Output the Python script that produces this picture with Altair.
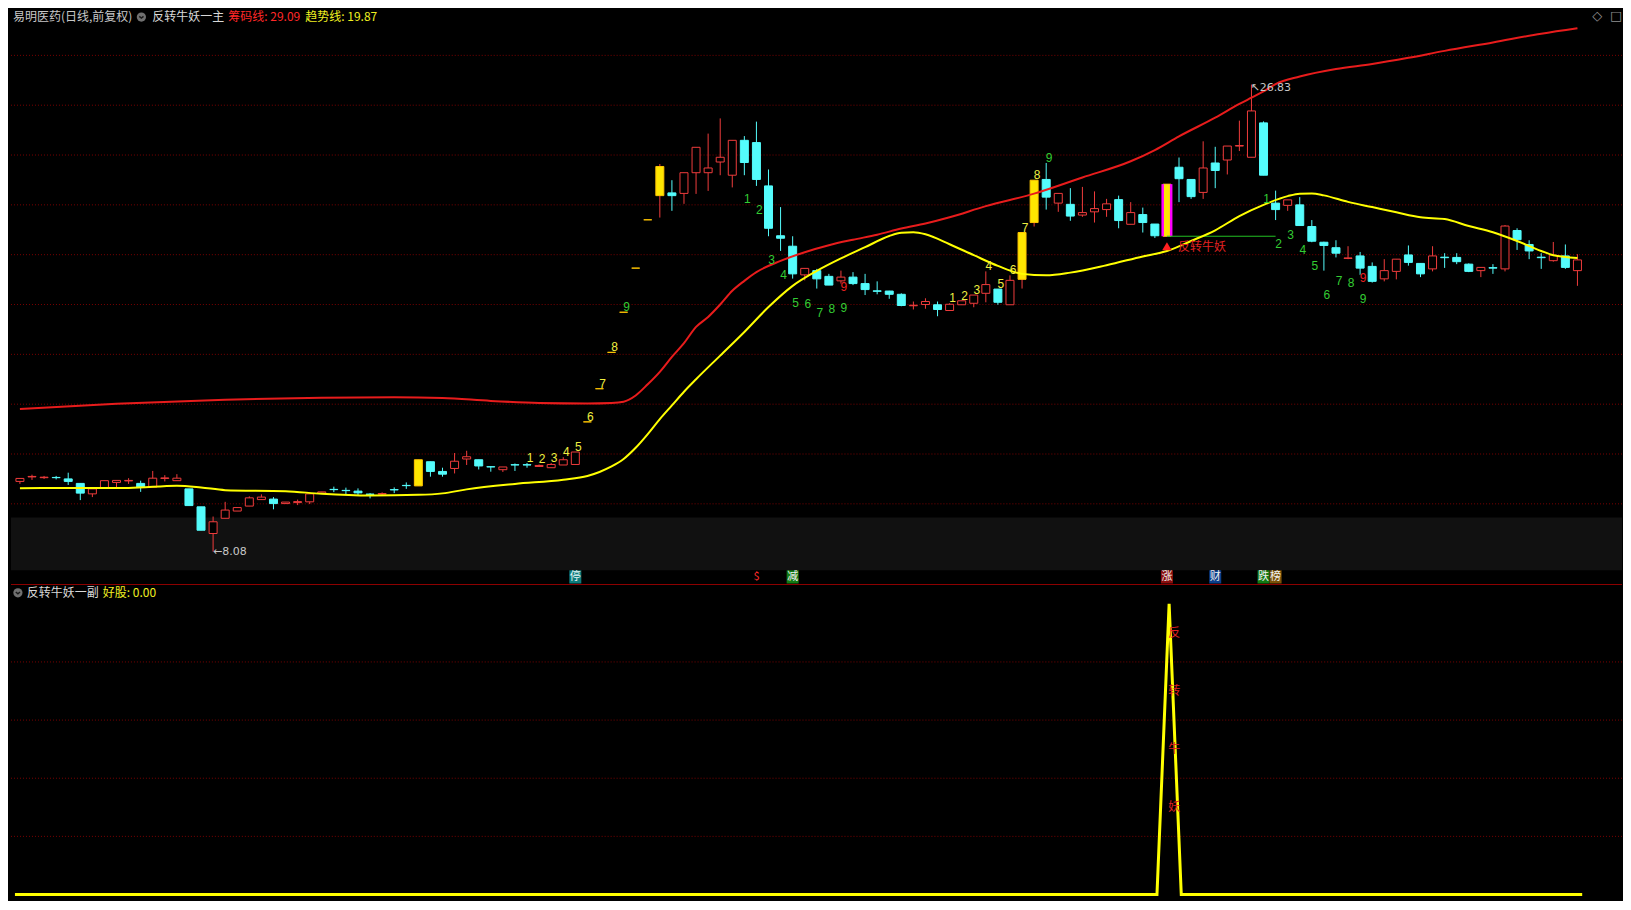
import altair as alt
import pandas as pd

# ---------------- data ----------------
opens = [
    10.90, 11.08, 11.05, 11.06, 11.00, 10.82, 10.40, 10.64, 10.86, 10.92,
    10.82, 10.67, 11.02, 10.93, 10.60, 9.88, 8.81, 9.42, 9.71, 9.91,
    10.17, 10.19, 10.01, 10.05, 10.08, 10.43, 10.58, 10.54, 10.51, 10.39,
    10.39, 10.57, 10.74, 10.72, 11.69, 11.30, 11.42, 11.80, 11.77, 11.49,
    11.37, 11.57, 11.57, 11.50, 11.45, 11.56, 11.58, 13.29, 14.62, 16.08,
    17.69, 19.46, 21.40, 22.37, 22.48, 22.46, 23.29, 23.29, 23.72, 23.19,
    24.59, 24.50, 22.76, 20.76, 20.34, 19.19, 19.36, 19.13, 18.95, 19.10,
    18.84, 18.55, 18.54, 18.41, 17.95, 18.00, 17.99, 17.76, 17.99, 18.05,
    18.45, 18.62, 17.99, 19.01, 21.29, 23.02, 22.07, 22.02, 21.59, 21.72,
    21.81, 22.21, 21.22, 21.61, 21.23, 20.74, 23.51, 23.02, 22.50, 23.68,
    23.80, 24.36, 23.91, 25.29, 22.07, 21.98, 22.00, 21.13, 20.50, 20.28,
    19.85, 19.95, 19.53, 19.03, 19.33, 19.99, 19.65, 19.43, 19.90, 19.89,
    19.62, 19.36, 19.48, 19.43, 20.97, 20.41, 19.90, 19.76, 19.95, 19.36,
]
highs = [
    11.02, 11.17, 11.12, 11.12, 11.25, 10.82, 10.60, 10.93, 10.94, 11.03,
    10.93, 11.32, 11.15, 11.19, 10.60, 9.88, 9.49, 10.08, 9.85, 10.30,
    10.38, 10.27, 10.07, 10.17, 10.40, 10.48, 10.69, 10.65, 10.62, 10.43,
    10.46, 10.66, 10.86, 11.77, 11.69, 11.45, 12.04, 12.13, 11.77, 11.50,
    11.48, 11.62, 11.64, 11.58, 11.64, 11.87, 12.08, 13.29, 14.62, 16.08,
    17.69, 19.46, 21.40, 23.64, 22.99, 23.29, 24.31, 24.86, 25.47, 24.59,
    24.76, 25.34, 23.42, 21.91, 20.74, 19.45, 19.43, 19.23, 19.36, 19.30,
    19.23, 18.93, 18.55, 18.45, 18.12, 18.25, 18.12, 18.05, 18.15, 18.38,
    19.33, 18.62, 19.17, 20.89, 22.99, 23.68, 22.46, 22.67, 22.72, 22.54,
    22.24, 22.37, 22.11, 21.89, 21.23, 22.83, 23.90, 23.02, 24.55, 24.33,
    24.36, 25.38, 26.83, 25.35, 22.57, 22.20, 22.31, 21.39, 20.52, 20.58,
    20.34, 20.11, 19.69, 19.82, 19.82, 20.37, 19.65, 20.34, 20.06, 20.06,
    19.65, 19.49, 19.62, 21.19, 21.06, 20.58, 20.06, 20.51, 20.41, 20.02,
]
lows = [
    10.80, 10.96, 11.00, 10.98, 10.76, 10.15, 10.27, 10.64, 10.64, 10.80,
    10.48, 10.67, 10.90, 10.93, 9.93, 8.94, 8.08, 9.42, 9.71, 9.91,
    10.17, 9.78, 10.01, 9.95, 9.99, 10.43, 10.47, 10.38, 10.33, 10.22,
    10.33, 10.43, 10.60, 10.72, 11.09, 11.09, 11.22, 11.56, 11.38, 11.29,
    11.28, 11.32, 11.45, 11.48, 11.45, 11.56, 11.58, 13.29, 14.62, 16.08,
    17.69, 19.46, 21.40, 21.49, 21.76, 22.04, 22.44, 22.56, 23.19, 22.70,
    23.19, 22.76, 20.74, 20.15, 19.04, 18.97, 18.64, 18.78, 18.84, 18.78,
    18.38, 18.41, 18.23, 17.93, 17.80, 17.83, 17.53, 17.76, 17.99, 17.89,
    18.09, 17.99, 17.99, 18.64, 21.13, 21.81, 21.72, 21.36, 21.52, 21.29,
    21.52, 21.06, 21.22, 20.89, 20.67, 20.74, 22.11, 22.24, 22.24, 22.67,
    23.22, 24.16, 23.91, 23.19, 21.39, 21.76, 21.17, 20.50, 19.36, 19.89,
    19.82, 19.19, 18.88, 18.93, 19.01, 19.56, 19.10, 19.33, 19.47, 19.62,
    19.30, 19.10, 19.23, 19.33, 20.19, 19.82, 19.43, 19.72, 19.43, 18.75,
]
closes = [
    11.02, 11.10, 11.07, 11.05, 10.90, 10.43, 10.60, 10.93, 10.94, 10.94,
    10.67, 11.03, 11.04, 11.03, 9.93, 8.94, 9.28, 9.75, 9.85, 10.24,
    10.27, 10.01, 10.07, 10.09, 10.40, 10.48, 10.57, 10.53, 10.44, 10.38,
    10.41, 10.56, 10.73, 11.77, 11.30, 11.19, 11.71, 11.89, 11.52, 11.48,
    11.48, 11.56, 11.56, 11.54, 11.58, 11.77, 12.08, 13.29, 14.62, 16.08,
    17.69, 19.46, 21.40, 23.54, 22.37, 23.29, 24.31, 23.48, 23.91, 24.59,
    23.70, 23.02, 21.06, 20.66, 19.23, 19.45, 19.03, 18.78, 19.10, 18.84,
    18.60, 18.53, 18.41, 17.96, 17.97, 18.12, 17.80, 18.01, 18.15, 18.38,
    18.80, 18.09, 18.97, 20.89, 22.99, 22.31, 22.46, 21.55, 21.69, 21.85,
    22.04, 21.37, 21.69, 21.29, 20.76, 22.83, 23.05, 22.33, 23.48, 23.38,
    24.36, 24.38, 25.77, 23.19, 21.81, 22.20, 21.17, 20.54, 20.37, 20.06,
    19.87, 19.46, 18.93, 19.36, 19.82, 19.69, 19.23, 19.95, 19.88, 19.72,
    19.33, 19.49, 19.46, 21.15, 20.60, 20.15, 19.88, 19.98, 19.49, 19.79,
]
limit_up_days = [33, 47, 48, 49, 50, 51, 52, 53, 83, 84, 95]
signal_days = [95]
signal_line_end = [104]

chip_idx = [0, 8, 17, 25, 31, 35, 39, 43, 47, 49,
            50, 51, 52, 53, 54, 55, 56, 57, 58, 59,
            60, 61, 63, 65, 67, 69, 71, 73, 75, 77,
            80, 84, 88, 92, 94, 96, 99, 101, 102, 103,
            104, 106, 109, 112, 115, 118, 122, 126, 129]
chip_val = [13.81, 14.02, 14.18, 14.26, 14.28, 14.25, 14.13, 14.05, 14.03, 14.05,
            14.10, 14.35, 14.80, 15.30, 15.90, 16.45, 17.10, 17.50, 18.00, 18.55,
            18.95, 19.30, 19.75, 20.10, 20.38, 20.60, 20.80, 21.05, 21.25, 21.50,
            21.95, 22.45, 23.10, 23.75, 24.20, 24.75, 25.50, 26.05, 26.30, 26.55,
            26.85, 27.15, 27.45, 27.65, 27.90, 28.18, 28.52, 28.87, 29.09]

trend_idx = [0, 5, 9, 13, 15, 17, 22, 25, 29, 33,
             35, 37, 41, 45, 47, 48, 49, 50, 51, 52,
             53, 54, 55, 56, 58, 60, 62, 64, 66, 68,
             70, 72, 73, 74, 75, 77, 79, 81, 83, 85,
             87, 90, 93, 95, 97, 99, 101, 103, 105, 106,
             107, 108, 110, 112, 114, 116, 118, 120, 122, 124,
             126, 127, 129]
trend_val = [10.63, 10.64, 10.64, 10.73, 10.66, 10.55, 10.51, 10.40, 10.33, 10.36,
             10.42, 10.58, 10.80, 10.97, 11.12, 11.28, 11.50, 11.80, 12.25, 12.80,
             13.40, 13.95, 14.50, 15.00, 15.95, 16.90, 17.90, 18.75, 19.35, 19.85,
             20.30, 20.75, 20.88, 20.90, 20.82, 20.42, 19.98, 19.55, 19.23, 19.17,
             19.28, 19.58, 19.93, 20.15, 20.55, 20.98, 21.55, 22.00, 22.35, 22.45,
             22.46, 22.38, 22.12, 21.91, 21.70, 21.50, 21.43, 21.15, 20.90, 20.55,
             20.15, 19.98, 19.87]

up_count_idx = [42, 43, 44, 45, 46, 47, 48, 49, 50, 77, 78, 79, 80, 81, 82, 83, 84, 85]
up_count_txt = ["1", "2", "3", "4", "5", "6", "7", "8", "9",
                "1", "2", "3", "4", "5", "6", "7", "8", "9"]
down_count_idx = [60, 61, 62, 63, 64, 65, 66, 67, 68,
                  103, 104, 105, 106, 107, 108, 109, 110, 111]
down_count_txt = ["1", "2", "3", "4", "5", "6", "7", "8", "9",
                  "1", "2", "3", "4", "5", "6", "7", "8", "9"]
red_nine_idx = [68, 111]

tag_idx = [46, 61, 64, 95, 99, 103, 104]
tag_txt = ["停", "$", "减", "涨", "财", "跌", "榜"]

haogu = [0] * 0 + [
    0, 0, 0, 0, 0, 0, 0, 0, 0, 0, 0, 0, 0, 0, 0, 0, 0, 0, 0, 0, 0, 0, 0, 0, 0, 0,
    0, 0, 0, 0, 0, 0, 0, 0, 0, 0, 0, 0, 0, 0, 0, 0, 0, 0, 0, 0, 0, 0, 0, 0, 0, 0,
    0, 0, 0, 0, 0, 0, 0, 0, 0, 0, 0, 0, 0, 0, 0, 0, 0, 0, 0, 0, 0, 0, 0, 0, 0, 0,
    0, 0, 0, 0, 0, 0, 0, 0, 0, 0, 0, 0, 0, 0, 0, 0, 0, 100, 0, 0, 0, 0, 0, 0, 0, 0,
    0, 0, 0, 0, 0, 0, 0, 0, 0, 0, 0, 0, 0, 0, 0, 0, 0, 0, 0, 0, 0, 0, 0, 0, 0, 0,
]
spike_txt = ["反", "转", "牛", "妖"]
spike_val = [90, 70, 50, 30]

price_grid = [10, 12, 14, 16, 18, 20, 22, 24, 26, 28]
sub_grid = [20, 40, 60, 80]

# ---------------- layout / style ----------------
SX = 1612 / 1631
SY = 890 / 910
W = 1612
H_TOP = round(589 * SY)
H_BOT = 890 - H_TOP


def RX(x):
    return SX * x


def TY(y):
    return SY * y


def BY(y):
    return SY * y - H_TOP


X_DOM = [-4 / 12.3, (W / SX - 4) / 12.3]
P_DOM = [29.89 - 0.03923 * (H_TOP / SY), 29.89]
B_DOM = [(906.7 - 910) / 2.974, (906.7 - H_TOP / SY) / 2.974]

RED = "#F03C3C"
CYAN = "#54FCFC"
YEL = "#FFE600"
LINE_RED = "#E81C1C"
LINE_YEL = "#FFFF00"
GREEN = "#33CC33"
NUM_YEL = "#F0F040"
GRID = "#7A0000"
CJK = "Noto Sans CJK SC"
NUM = "Liberation Sans"

xs = alt.Scale(domain=X_DOM, nice=False, zero=False)
ys = alt.Scale(domain=P_DOM, nice=False, zero=False)
bs = alt.Scale(domain=B_DOM, nice=False, zero=False)


def X(field="i"):
    return alt.X(f"{field}:Q", scale=xs, axis=None)


def YP(field):
    return alt.Y(f"{field}:Q", scale=ys, axis=None)


def YB(field):
    return alt.Y(f"{field}:Q", scale=bs, axis=None)


one = pd.DataFrame({"k": [0]})


def label(text, x, y, color, size=12, font=CJK, align="left"):
    return alt.Chart(pd.DataFrame({"t": [text]})).mark_text(
        font=font, fontSize=size, color=color, align=align, baseline="middle"
    ).encode(x=alt.value(x), y=alt.value(y), text="t:N")


# ---------------- frames ----------------
n = len(opens)
df = pd.DataFrame({"i": list(range(n)), "o": opens, "h": highs, "l": lows, "c": closes})
df["lo"] = df[["o", "c"]].min(axis=1)
df["hi"] = df[["o", "c"]].max(axis=1)
df["cat"] = ["yellow" if i in limit_up_days else ("red" if c > o else "cyan")
             for i, o, c in zip(df.i, df.o, df.c)]
df["wick"] = ["cyan" if k == "cyan" else "red" for k in df.cat]
sig = df[df.i.isin(signal_days)].copy()
sig["i2"] = signal_line_end

chip = pd.DataFrame({"i": chip_idx, "p": chip_val})
trend = pd.DataFrame({"i": trend_idx, "p": trend_val})
up = pd.DataFrame({"i": up_count_idx, "t": up_count_txt})
up["y"] = [highs[i] for i in up_count_idx]
dn = pd.DataFrame({"i": down_count_idx, "t": down_count_txt})
dn["y"] = [lows[i] for i in down_count_idx]
r9 = pd.DataFrame({"i": red_nine_idx, "t": ["9"] * len(red_nine_idx)})
r9["y"] = [lows[i] for i in red_nine_idx]

imin = int(df.l.idxmin())
imax = int(df.h.idxmax())
lowlab = pd.DataFrame({"i": [imin], "y": [lows[imin]], "t": [f"←{lows[imin]:.2f}"]})
highlab = pd.DataFrame({"i": [imax], "y": [highs[imax]], "t": [f"↖{highs[imax]:.2f}"]})

# ---------------- top panel ----------------
top_layers = []
top_layers.append(alt.Chart(one).mark_rect(color="#111111").encode(
    x=alt.value(0), x2=alt.value(W), y=alt.value(TY(521)), y2=alt.value(TY(575))))
top_layers.append(alt.Chart(pd.DataFrame({"p": price_grid})).mark_rule(
    color=GRID, strokeDash=[1, 2], strokeWidth=1).encode(y=YP("p")))

tag_bg = ["#0E7C7C", "#000000", "#137A13", "#8A0E0E", "#0C3F8A", "#137A13", "#7A5208"]
tag_fg = ["#E8F8F8", "#FF2A2A", "#F0F0F0", "#F0F0F0", "#F0F0F0", "#F0F0F0", "#F0F0F0"]
for ti, tt, bg, fg in zip(tag_idx, tag_txt, tag_bg, tag_fg):
    d = pd.DataFrame({"i": [ti], "t": [tt]})
    top_layers.append(alt.Chart(d).mark_bar(size=12, color=bg).encode(
        x=X(), y=alt.value(TY(575)), y2=alt.value(TY(588.5))))
    top_layers.append(alt.Chart(d).mark_text(font=CJK, fontSize=11, color=fg, baseline="middle").encode(
        x=X(), y=alt.value(TY(582)), text="t:N"))

top_layers.append(alt.Chart(df).mark_rule(strokeWidth=1).encode(
    x=X(), y=YP("l"), y2="h:Q",
    color=alt.Color("wick:N", scale=alt.Scale(domain=["red", "cyan"], range=[RED, CYAN]), legend=None)))
top_layers.append(alt.Chart(df).mark_bar(size=8, strokeWidth=1).encode(
    x=X(), y=YP("lo"), y2="hi:Q",
    fill=alt.Fill("cat:N", scale=alt.Scale(domain=["red", "cyan", "yellow"],
                                           range=["#000000", CYAN, YEL]), legend=None),
    stroke=alt.Stroke("cat:N", scale=alt.Scale(domain=["red", "cyan", "yellow"],
                                               range=[RED, CYAN, "#FFC400"]), legend=None)))
top_layers.append(alt.Chart(sig).mark_bar(size=11, color="#FF00FF").encode(
    x=X(), y=YP("lo"), y2="hi:Q"))
top_layers.append(alt.Chart(sig).mark_bar(size=6, color=YEL).encode(
    x=X(), y=YP("lo"), y2="hi:Q"))
top_layers.append(alt.Chart(sig).mark_rule(color="#22C022", strokeWidth=1).encode(
    x=X(), x2="i2:Q", y=YP("l")))

top_layers.append(alt.Chart(chip).mark_line(color=LINE_RED, strokeWidth=2, interpolate="monotone").encode(
    x=X(), y=YP("p")))
top_layers.append(alt.Chart(trend).mark_line(color=LINE_YEL, strokeWidth=2, interpolate="monotone").encode(
    x=X(), y=YP("p")))

top_layers.append(alt.Chart(up).mark_text(font=NUM, fontSize=12, baseline="middle", dx=3, dy=-5).encode(
    x=X(), y=YP("y"), text="t:N",
    color=alt.condition("datum.t == '9'", alt.value(GREEN), alt.value(NUM_YEL))))
top_layers.append(alt.Chart(dn).mark_text(font=NUM, fontSize=12, baseline="middle", dx=3, dy=24,
                                          color=GREEN).encode(x=X(), y=YP("y"), text="t:N"))
top_layers.append(alt.Chart(r9).mark_text(font=NUM, fontSize=12, baseline="middle", dx=3, dy=3,
                                          color="#E82020").encode(x=X(), y=YP("y"), text="t:N"))

top_layers.append(alt.Chart(lowlab).mark_text(font="DejaVu Sans", fontSize=11, align="left",
                                              baseline="middle", dx=0, color="#C8C8C8").encode(
    x=X(), y=YP("y"), text="t:N"))
top_layers.append(alt.Chart(highlab).mark_text(font="DejaVu Sans", fontSize=11, align="left",
                                               baseline="middle", dx=-1, dy=3, color="#C8C8C8").encode(
    x=X(), y=YP("y"), text="t:N"))
top_layers.append(alt.Chart(sig).mark_point(shape="triangle-up", filled=True, size=90, color="#FF2020",
                                            opacity=1, yOffset=10).encode(x=X(), y=YP("l")))
top_layers.append(alt.Chart(sig.assign(t="反转牛妖")).mark_text(
    font=CJK, fontSize=12, align="left", baseline="middle", dx=11, dy=11, color="#E02020").encode(
    x=X(), y=YP("l"), text="t:N"))

# header
top_layers.append(label("易明医药(日线,前复权)", RX(2), TY(9), "#C8C8C8"))
top_layers.append(alt.Chart(one).mark_point(shape="circle", filled=True, size=85, color="#707070",
                                            opacity=1).encode(x=alt.value(RX(132)), y=alt.value(TY(9))))
top_layers.append(alt.Chart(one).mark_point(shape="M-1,-0.35L0,0.45L1,-0.35", filled=False, size=18,
                                            color="#1A1A1A", strokeWidth=1.5, opacity=1).encode(
    x=alt.value(RX(132)), y=alt.value(TY(9))))
top_layers.append(label("反转牛妖一主", RX(143), TY(9), "#D8D8D8"))
top_layers.append(label(f"筹码线: {chip_val[-1]:.2f}", RX(220), TY(9), "#FF2828"))
top_layers.append(label(f"趋势线: {trend_val[-1]:.2f}", RX(298), TY(9), "#F0F020"))
top_layers.append(label("◇", RX(1606), TY(8), "#909090", size=13, font="DejaVu Sans", align="center"))
top_layers.append(label("□", RX(1625), TY(8), "#909090", size=13, font="DejaVu Sans", align="center"))

top = alt.layer(*top_layers).properties(width=W, height=H_TOP)

# ---------------- bottom panel ----------------
sub = pd.DataFrame({"i": list(range(n)), "v": haogu})
spike = pd.DataFrame({"i": [signal_days[0]] * len(spike_txt), "v": spike_val, "t": spike_txt})

bot_layers = []
bot_layers.append(alt.Chart(one).mark_rule(color="#8C0000", strokeWidth=1.2).encode(
    x=alt.value(0), x2=alt.value(W), y=alt.value(0.6)))
bot_layers.append(alt.Chart(pd.DataFrame({"v": sub_grid})).mark_rule(
    color=GRID, strokeDash=[1, 2], strokeWidth=1).encode(y=YB("v")))
bot_layers.append(alt.Chart(sub).mark_line(color=LINE_YEL, strokeWidth=3).encode(
    x=X(), y=YB("v")))
bot_layers.append(alt.Chart(spike).mark_text(font=CJK, fontSize=12, baseline="middle", dx=5,
                                             color="#E02020").encode(x=X(), y=YB("v"), text="t:N"))
bot_layers.append(alt.Chart(one).mark_point(shape="circle", filled=True, size=85, color="#707070",
                                            opacity=1).encode(x=alt.value(RX(7)), y=alt.value(BY(598))))
bot_layers.append(alt.Chart(one).mark_point(shape="M-1,-0.35L0,0.45L1,-0.35", filled=False, size=18,
                                            color="#1A1A1A", strokeWidth=1.5, opacity=1).encode(
    x=alt.value(RX(7)), y=alt.value(BY(598))))
bot_layers.append(label("反转牛妖一副", RX(16), BY(598), "#D8D8D8"))
bot_layers.append(label(f"好股: {haogu[-1]:.2f}", RX(93), BY(598), "#F0F020"))

bot = alt.layer(*bot_layers).properties(width=W, height=H_BOT)

chart = alt.vconcat(top, bot, spacing=0, background="#000000", padding=0).configure_view(
    strokeWidth=0, fill="#000000")

chart.save("out.html", embed_options={"renderer": "svg", "actions": False})
